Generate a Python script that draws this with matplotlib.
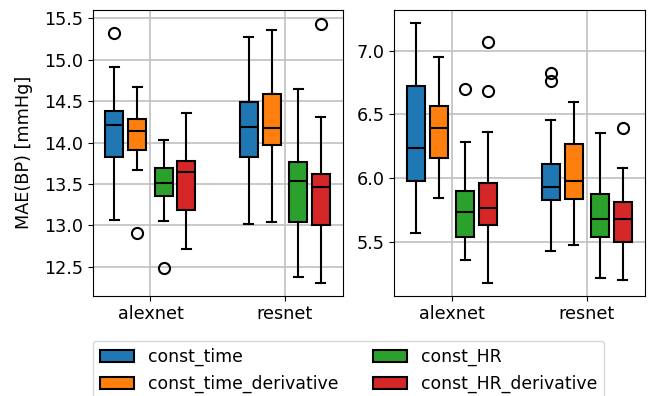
import numpy as np
import matplotlib
matplotlib.use("Agg")
from matplotlib import pyplot as plt
from matplotlib.patches import Patch

# categories
models = ['alexnet', 'resnet']
methods = ['const_time', 'const_time_derivative', 'const_HR', 'const_HR_derivative']
colors = ['#1f77b4', '#ff7f0e', '#2ca02c', '#d62728']

# left panel (rows = model, cols = method)
left_whislo = [[13.06, 13.67, 13.05, 12.71], [13.02, 13.04, 12.38, 12.30]]
left_q1 = [[13.82, 13.91, 13.35, 13.18], [13.82, 13.97, 13.04, 13.00]]
left_med = [[14.21, 14.14, 13.51, 13.64], [14.19, 14.17, 13.53, 13.46]]
left_q3 = [[14.38, 14.28, 13.69, 13.78], [14.49, 14.59, 13.77, 13.62]]
left_whishi = [[14.91, 14.67, 14.03, 14.36], [15.27, 15.36, 14.65, 14.31]]
left_fliers = [[[15.32], [12.91], [12.48], []], [[], [], [], [15.43]]]

# right panel
right_whislo = [[5.565, 5.84, 5.356, 5.175], [5.427, 5.474, 5.215, 5.199]]
right_q1 = [[5.98, 6.16, 5.534, 5.628], [5.825, 5.832, 5.534, 5.497]]
right_med = [[6.24, 6.39, 5.733, 5.767], [5.932, 5.979, 5.681, 5.681]]
right_q3 = [[6.725, 6.565, 5.90, 5.963], [6.113, 6.267, 5.874, 5.812]]
right_whishi = [[7.22, 6.95, 6.283, 6.361], [6.453, 6.597, 6.356, 6.078]]
right_fliers = [[[], [], [6.696], [7.068, 6.686]], [[6.822, 6.764], [], [], [6.39]]]

offsets = [-0.268, -0.098, 0.099, 0.266]
box_w = 0.134


def draw_panel(ax, whislo, q1, med, q3, whishi, fliers):
    for i in range(len(models)):
        for j in range(len(methods)):
            st = [dict(whislo=whislo[i][j], q1=q1[i][j], med=med[i][j],
                       q3=q3[i][j], whishi=whishi[i][j], fliers=fliers[i][j])]
            ax.bxp(st, positions=[i + offsets[j]], widths=box_w,
                   patch_artist=True, manage_ticks=False,
                   boxprops=dict(facecolor=colors[j], edgecolor='black', linewidth=1.5),
                   medianprops=dict(color='black', linewidth=1.5),
                   whiskerprops=dict(color='black', linewidth=1.5),
                   capprops=dict(color='black', linewidth=1.5),
                   flierprops=dict(marker='o', markerfacecolor='none',
                                   markeredgecolor='black', markersize=8,
                                   markeredgewidth=1.5))
    ax.set_xticks(range(len(models)))
    ax.set_xticklabels(models)
    ax.set_xlim(-0.43, 1.43)
    ax.grid(True, color='#c0c0c0', linewidth=1.2)
    ax.set_axisbelow(True)
    ax.tick_params(labelsize=12.7)


fig = plt.figure(figsize=(6.48, 3.96), dpi=100)
ax1 = fig.add_axes([0.143, 0.2533, 0.386, 0.7214])
ax2 = fig.add_axes([0.608, 0.2533, 0.387, 0.7214])

draw_panel(ax1, left_whislo, left_q1, left_med, left_q3, left_whishi, left_fliers)
draw_panel(ax2, right_whislo, right_q1, right_med, right_q3, right_whishi, right_fliers)
ax1.set_ylim(12.15, 15.6)
ax2.set_ylim(5.076, 7.32)
ax1.set_ylabel('MAE(BP) [mmHg]', fontsize=12.7, labelpad=8)

handles = [Patch(facecolor=c, edgecolor='black', linewidth=1.5) for c in colors]
fig.legend(handles, methods, loc='upper left', ncol=2, borderaxespad=0,
           bbox_to_anchor=(0.143, 1 - 341 / 396), fontsize=12.4)

fig.savefig('out.png', dpi=100)
